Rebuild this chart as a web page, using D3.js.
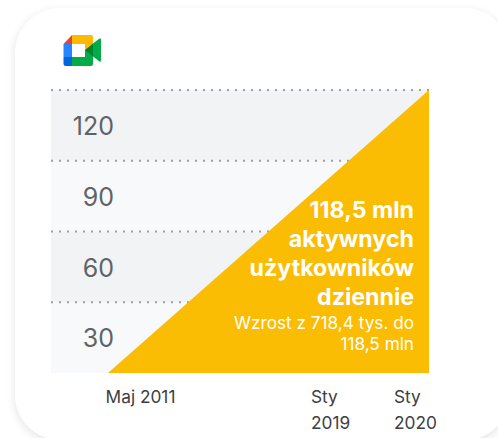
<!DOCTYPE html>
<html>
<head>
<meta charset="utf-8">
<script src="https://cdn.jsdelivr.net/npm/d3@7"></script>
<style>
  html, body { margin: 0; padding: 0; background: #fff; overflow: hidden; }
  svg { display: block; font-family: Inter, sans-serif; }
</style>
</head>
<body>
<div id="chart"></div>
<script>
/* Google Meet daily users, Polish labels */
const bandTops = [120, 90, 60, 30];
const tickLabels = ["120", "90", "60", "30"];
const dates = ["2011-05-01", "2020-01-01"];
const users = [0, 120];
const xTickDates = ["2011-05-01", "2019-01-01", "2020-01-01"];
const xTickLabels = [["Maj 2011"], ["Sty", "2019"], ["Sty", "2020"]];
const headline = ["118,5 mln", "aktywnych", "użytkowników", "dziennie"];
const subline = ["Wzrost z 718,4 tys. do", "118,5 mln"];

const width = 498,
    height = 438,
    margin = ({top: 90, right: 69, bottom: 65, left: 51});

const parse = d3.timeParse("%Y-%m-%d");

const svg = d3.select("#chart")
    .append("svg")
    .attr("width", width)
    .attr("height", height)
    .attr("viewBox", [0, 0, width, height]);

/* soft card behind everything */
const defs = svg.append("defs");
const blur = defs.append("filter").attr("id", "soft")
    .attr("x", "-10%").attr("y", "-10%").attr("width", "120%").attr("height", "120%");
blur.append("feGaussianBlur").attr("stdDeviation", 4);

svg.append("rect")
    .attr("x", 14).attr("y", 10).attr("width", 497).attr("height", 433).attr("rx", 45)
    .attr("fill", "#000").attr("opacity", 0.09).attr("filter", "url(#soft)");
svg.append("rect")
    .attr("x", 15).attr("y", 8).attr("width", 495).attr("height", 432).attr("rx", 45)
    .attr("fill", "#fff");

/* x axis is not to scale in the original: 2011 to 2020 is squeezed */
const x = d3.scaleTime()
    .domain(xTickDates.map(parse))
    .range([margin.left + 57, 350, width - margin.right]);

const y = d3.scaleLinear()
    .domain([0, 120])
    .range([height - margin.bottom, margin.top]);

/* alternating bands */
svg.append("g")
    .selectAll("rect")
    .data(bandTops)
    .join("rect")
    .attr("x", margin.left)
    .attr("y", d => y(d))
    .attr("width", width - margin.left - margin.right)
    .attr("height", d => y(d - 30) - y(d))
    .attr("fill", (d, i) => i % 2 ? "#f8f9fa" : "#f1f3f4");

/* dotted grid */
svg.append("g")
    .selectAll("line")
    .data(bandTops)
    .join("line")
    .attr("x1", margin.left)
    .attr("x2", width - margin.right)
    .attr("y1", d => y(d))
    .attr("y2", d => y(d))
    .attr("stroke", "#9aa0a6")
    .attr("stroke-width", 2)
    .attr("stroke-dasharray", "2 6");

/* the growth wedge */
const area = d3.area()
    .x(d => x(d.date))
    .y0(y(0))
    .y1(d => y(d.value));

svg.append("path")
    .datum(dates.map((d, i) => ({date: parse(d), value: users[i]})))
    .attr("fill", "#fbbc04")
    .attr("d", area);

/* y labels sit inside the bands */
svg.append("g")
    .selectAll("text")
    .data(bandTops)
    .join("text")
    .attr("x", 114)
    .attr("y", d => y(d) + 45)
    .attr("text-anchor", "end")
    .attr("font-size", 25)
    .attr("fill", "#5f6368")
    .text((d, i) => tickLabels[i]);

/* x labels */
const xLabel = svg.append("g")
    .selectAll("text")
    .data(xTickLabels)
    .join("text")
    .attr("y", 403)
    .attr("text-anchor", (d, i) => i ? "start" : "middle")
    .attr("font-size", 17.3)
    .attr("fill", "#3c4043");

xLabel.selectAll("tspan")
    .data((d, i) => d.map(t => ({t, i})))
    .join("tspan")
    .attr("x", d => [140.5, 311, 394][d.i])
    .attr("dy", (d, j) => j ? 26 : 0)
    .text(d => d.t);

/* callout */
svg.append("g")
    .selectAll("text")
    .data(headline)
    .join("text")
    .attr("x", 414)
    .attr("y", (d, i) => 218 + i * 29)
    .attr("text-anchor", "end")
    .attr("font-size", 23.2)
    .attr("font-weight", 700)
    .attr("fill", "#fff")
    .text(d => d);

svg.append("g")
    .selectAll("text")
    .data(subline)
    .join("text")
    .attr("x", 414)
    .attr("y", (d, i) => 329 + i * 21)
    .attr("text-anchor", "end")
    .attr("font-size", 17.2)
    .attr("fill", "#fff")
    .text(d => d);

/* Meet logo */
const logo = [
    ["#ea4335", "M72 35L63.5 44H72Z"],
    ["#ffba00", "M72 35H91Q93 35 93 37V50L85 50V44H72Z"],
    ["#2684fc", "M63.5 44H72V57H63.5Z"],
    ["#0066da", "M63.5 57H72V66H66Q63.5 66 63.5 63.5Z"],
    ["#00ac47", "M72 57H85V50L93 50V64Q93 66 91 66H72Z"],
    ["#00832d", "M85 50L93 43.5V56.5Z"],
    ["#00ac47", "M93 43.5L99.5 38.5Q101 38 101 39.5V60.5Q101 62 99.5 61.5L93 56.5Z"]
];

svg.append("g")
    .selectAll("path")
    .data(logo)
    .join("path")
    .attr("fill", d => d[0])
    .attr("d", d => d[1]);
</script>
</body>
</html>
